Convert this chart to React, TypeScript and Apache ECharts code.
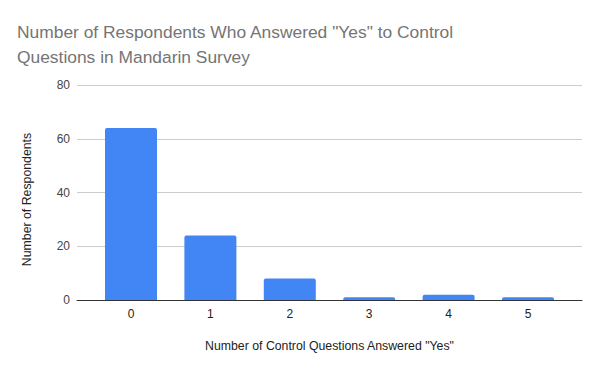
import React, { useEffect, useRef } from "react";
import * as echarts from "echarts";

const categories = [0, 1, 2, 3, 4, 5];
const respondents = [64, 24, 8, 1, 2, 1];
const yTicks = [0, 20, 40, 60, 80];

const titleText = 'Number of Respondents Who Answered "Yes" to Control\nQuestions in Mandarin Survey';
const xName = 'Number of Control Questions Answered "Yes"';
const yName = "Number of Respondents";

export default function App() {
  const ref = useRef<HTMLDivElement>(null);
  useEffect(() => {
    if (!ref.current) return;
    const chart = echarts.init(ref.current, null, { renderer: "svg" });
    const font = "Liberation Sans";
    chart.setOption({
      animation: false,
      backgroundColor: "#ffffff",
      textStyle: { fontFamily: font },
      title: {
        text: titleText,
        left: 12,
        top: 14,
        textStyle: {
          fontFamily: font,
          fontSize: 17.4,
          fontWeight: "normal",
          color: "#757575",
          lineHeight: 25,
        },
      },
      grid: { left: 77, right: 18, top: 85, bottom: 71, containLabel: false },
      xAxis: {
        type: "value",
        min: -0.68,
        max: 5.68,
        name: xName,
        nameLocation: "middle",
        nameGap: 40,
        nameTextStyle: { fontFamily: font, fontSize: 12.3, color: "#222222" },
        axisLine: { show: true, lineStyle: { color: "#333333", width: 1 } },
        axisTick: { show: false },
        splitLine: { show: false },
        axisLabel: {
          customValues: categories,
          margin: 8,
          fontFamily: font,
          fontSize: 12,
          color: "#222222",
          formatter: (v: number) => String(Math.round(v)),
        },
      },
      yAxis: {
        type: "value",
        min: yTicks[0],
        max: yTicks[yTicks.length - 1],
        interval: 20,
        name: yName,
        nameLocation: "middle",
        nameGap: 44,
        nameTextStyle: { fontFamily: font, fontSize: 12.3, color: "#222222", padding: [0, 14, 0, 0] },
        axisLine: { show: false },
        axisTick: { show: false },
        splitLine: { show: true, lineStyle: { color: "#cccccc", width: 1 } },
        axisLabel: { margin: 7, fontFamily: font, fontSize: 12, color: "#444444" },
      },
      series: [
        {
          type: "bar",
          data: categories.map((c, i) => [c, respondents[i]]),
          barWidth: 52,
          itemStyle: { color: "#4285f4", borderRadius: [2, 2, 0, 0] },
        },
      ],
    });
    return () => chart.dispose();
  }, []);
  return <div ref={ref} style={{ width: 600, height: 371, position: "absolute", left: 0, top: 0 }} />;
}
